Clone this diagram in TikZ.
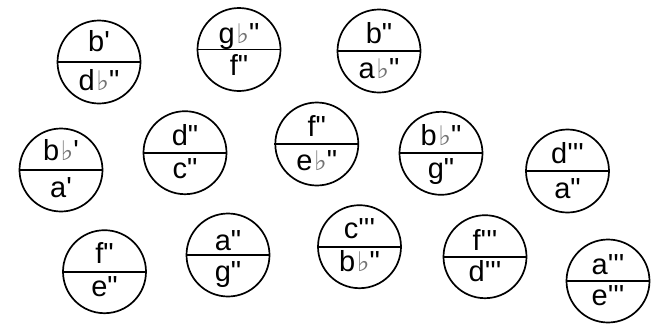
\documentclass[tikz,border=0pt]{standalone}
\usepackage{fontspec}
\usepackage{tikz}
\usetikzlibrary{positioning}
\newfontfamily\notefont{Liberation Sans}
\newfontfamily\flatfont{DejaVu Sans}
\newcommand{\fl}{\hspace{1.5pt}{\flatfont\fontsize{27}{27}\selectfont\color{black!55}♭}}

\begin{document}
\begin{tikzpicture}[x=1pt,y=-1pt,
    pitch/.style={circle, draw, line width=1.7pt, minimum size=83pt, inner sep=0pt},
    split/.style={line width=1.7pt},
    notename/.style={anchor=base, inner sep=0pt, font=\notefont\fontsize{29}{31}\selectfont}]
    \useasboundingbox (0,0) rectangle (661,327);
    % name / centre / upper and lower name / baseline offsets
    \foreach \n/\x/\y/\up/\lo/\du/\dl in {
        bd/99/62/{b'}/{d\fl"}/11/28,
        gf/239/49.5/{g\fl"}/{f"}/6/26,
        ba/379/51/{b"}/{a\fl"}/7.5/27.5,
        bbA/61/170/{b\fl'}/{a'}/10/27,
        dc/185/152.7/{d"}/{c"}/7.7/25.6,
        fe/316.8/144/{f"}/{e\fl"}/7.3/26,
        bbG/441/153.3/{b\fl"}/{g"}/8/25,
        da/567.5/171/{d'''}/{a"}/7.7/27.3,
        fE/104.5/271.7/{f"}/{e"}/8.4/25,
        ag/228/255/{a"}/{g"}/5/26.7,
        cb/359.5/246.7/{c'''}/{b\fl"}/8.4/25,
        fd/485/256.7/{f'''}/{d'''}/6.7/25,
        ae/608/281/{a'''}/{e'''}/7/24} {
        \node[pitch] (\n) at (\x,\y) {};
        \draw[split] (\n.west) -- (\n.east);
        \node[notename] (\n-up) at ([yshift=\du pt]\n.center) {\up};
        \node[notename] (\n-lo) at ([yshift=-\dl pt]\n.center) {\lo};
    }
\end{tikzpicture}
\end{document}
